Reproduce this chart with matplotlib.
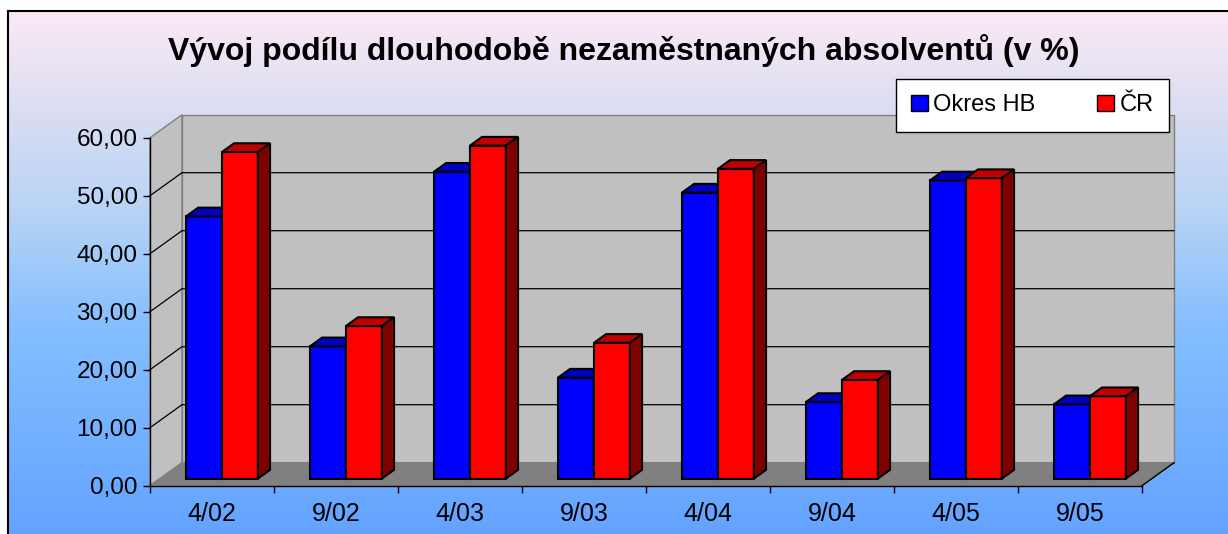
import numpy as np
import matplotlib
matplotlib.use("Agg")
from matplotlib import pyplot as plt
from matplotlib.patches import Polygon, Patch
from matplotlib.ticker import FuncFormatter, FixedLocator

plt.rcParams['font.family'] = ['Liberation Sans', 'DejaVu Sans']

# data
categories = ['4/02', '9/02', '4/03', '9/03', '4/04', '9/04', '4/05', '9/05']
okres_hb = [45.2, 22.8, 52.9, 17.4, 49.3, 13.2, 51.4, 12.8]
cr = [56.3, 26.3, 57.4, 23.4, 53.4, 17.0, 51.8, 14.2]
series_names = ['Okres HB', 'ČR']
title = 'Vývoj podílu dlouhodobě nezaměstnaných absolventů (v %)'
y_ticks = [0, 10, 20, 30, 40, 50, 60]

# colours: front, top, side
blue = ('#0000ff', '#0000c0', '#000080')
red = ('#ff0000', '#c00000', '#800000')

W, H = 1228, 534
fig = plt.figure(figsize=(W / 100, H / 100), dpi=100)
fig.patch.set_facecolor('white')

# gradient background inside the black frame
bg = fig.add_axes([8 / W, 0, (W - 8) / W, (H - 11) / H], zorder=0)
stops = [(0.0, (0.99, 0.91, 0.96)), (0.15, (0.88, 0.88, 0.95)),
         (0.38, (0.72, 0.83, 0.96)), (0.6, (0.52, 0.75, 1.0)),
         (1.0, (0.39, 0.64, 1.0))]
t = np.linspace(0, 1, 256)
grad = np.zeros((256, 1, 3))
for c in range(3):
    grad[:, 0, c] = np.interp(t, [s[0] for s in stops], [s[1][c] for s in stops])
bg.imshow(grad, aspect='auto', extent=[0, 1, 0, 1], origin='upper')
bg.set_xticks([])
bg.set_yticks([])
for side in ['right', 'bottom']:
    bg.spines[side].set_visible(False)
for side in ['left', 'top']:
    bg.spines[side].set_color('black')
    bg.spines[side].set_linewidth(1.5)

# main axes = front plane of the 3d box
x0p, x1p, y0p, y1p = 150, 1142, 485.7, 137.7
ax = fig.add_axes([x0p / W, (H - y0p) / H, (x1p - x0p) / W, (y0p - y1p) / H], zorder=1)
ax.patch.set_visible(False)
n = len(categories)
ax.set_xlim(0, n)
ax.set_ylim(0, 60)

# depth offset in data units
dx = 32 / ((x1p - x0p) / n)
dv = 23 / ((y0p - y1p) / 60)
ymax = 60

wall_kw = dict(clip_on=False, linewidth=1, edgecolor='#808080')
ax.add_patch(Polygon([(0, 0), (0, ymax), (dx, ymax + dv), (dx, dv)],
                     facecolor='#c0c0c0', zorder=1, **wall_kw))
ax.add_patch(Polygon([(dx, dv), (n + dx, dv), (n + dx, ymax + dv), (dx, ymax + dv)],
                     facecolor='#c0c0c0', zorder=1, **wall_kw))
ax.add_patch(Polygon([(0, 0), (n, 0), (n + dx, dv), (dx, dv)],
                     facecolor='#808080', zorder=1, **wall_kw))

# gridlines on the walls
for v in y_ticks[1:-1]:
    ax.plot([0, dx, n + dx], [v, v + dv, v + dv], color='black', lw=0.9,
            clip_on=False, zorder=1.5)
ax.plot([n, n + dx], [0, dv], color='black', lw=1, clip_on=False, zorder=2.6)

# bars
bw = 0.29
f0, f1 = 0.31, 0.69
ddx, ddv = (f1 - f0) * dx, (f1 - f0) * dv
for i in range(n):
    for s, (vals, cols) in enumerate([(okres_hb, blue), (cr, red)]):
        left = i + 0.5 + (s - 1) * bw + f0 * dx
        base = f0 * dv
        top = vals[i] + base
        kw = dict(edgecolor='black', linewidth=1.5, clip_on=False, zorder=3,
                  joinstyle='miter')
        ax.add_patch(Polygon([(left, base), (left + bw, base), (left + bw, top), (left, top)],
                             facecolor=cols[0], **kw))
        ax.add_patch(Polygon([(left, top), (left + bw, top), (left + bw + ddx, top + ddv),
                              (left + ddx, top + ddv)], facecolor=cols[1], **kw))
        ax.add_patch(Polygon([(left + bw, base), (left + bw + ddx, base + ddv),
                              (left + bw + ddx, top + ddv), (left + bw, top)],
                             facecolor=cols[2], **kw))

# axes, ticks
for side in ['top', 'right']:
    ax.spines[side].set_visible(False)
for side in ['left', 'bottom']:
    ax.spines[side].set_color('black')
    ax.spines[side].set_linewidth(1)
ax.set_yticks(y_ticks)
ax.yaxis.set_major_formatter(FuncFormatter(lambda v, _: f'{v:.2f}'.replace('.', ',')))
ax.tick_params(axis='y', length=5, width=1, pad=4, labelsize=17.5)
ax.xaxis.set_major_locator(FixedLocator(range(n + 1)))
ax.xaxis.set_minor_locator(FixedLocator([i + 0.5 for i in range(n)]))
ax.set_xticklabels([], minor=False)
ax.set_xticklabels(categories, minor=True)
ax.tick_params(axis='x', which='major', length=5, width=1)
ax.tick_params(axis='x', which='minor', length=0, pad=12, labelsize=18)

fig.text(624 / W, 1 - 51 / H, title, ha='center', va='center',
         fontsize=23, fontweight='bold')

handles = [Patch(facecolor=blue[0], edgecolor='black', label=series_names[0]),
           Patch(facecolor=red[0], edgecolor='black', label=series_names[1])]
leg = fig.legend(handles=handles, ncol=2, loc='upper right',
                 bbox_to_anchor=(1169 / W, 1 - 79 / H), fontsize=17,
                 frameon=True, fancybox=False, framealpha=1, edgecolor='black',
                 handlelength=0.7, handleheight=0.7, handletextpad=0.25,
                 columnspacing=2.6, borderpad=0.65, borderaxespad=0)
leg.get_frame().set_linewidth(1)
leg.set_zorder(5)

fig.savefig('out.png', dpi=100)
